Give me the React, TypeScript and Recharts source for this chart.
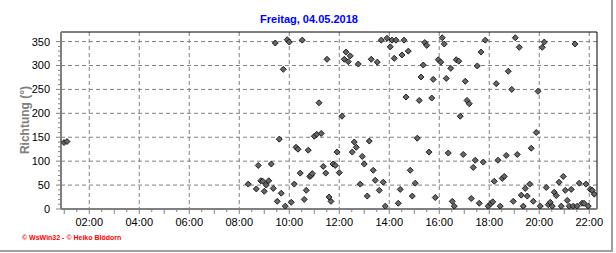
import React from "react";
import {
  CartesianGrid,
  ReferenceLine,
  Scatter,
  ScatterChart,
  XAxis,
  YAxis,
} from "recharts";

// Windrichtung, Freitag 04.05.2018 – [Uhrzeit in Stunden, Richtung in Grad]
const messungen: [number, number][] = [
  [0.99, 139], [1.11, 141],
  [8.36, 52], [8.68, 42], [8.76, 91], [8.86, 59], [8.94, 58], [9.0, 37],
  [9.08, 50], [9.18, 59], [9.28, 94], [9.36, 43], [9.44, 347], [9.52, 16],
  [9.6, 146], [9.68, 33], [9.76, 292], [9.84, 6], [9.92, 354], [10.0, 349],
  [10.08, 14], [10.2, 52], [10.27, 129], [10.35, 125], [10.44, 75], [10.52, 353],
  [10.6, 20], [10.68, 39], [10.76, 123], [10.82, 68], [10.87, 70], [10.92, 74],
  [11.0, 152], [11.1, 156], [11.19, 222], [11.28, 158], [11.36, 89], [11.46, 75],
  [11.51, 313], [11.59, 25], [11.67, 16], [11.75, 94], [11.84, 91], [11.91, 119],
  [12.0, 76], [12.11, 194], [12.2, 313], [12.27, 328], [12.36, 308], [12.44, 320],
  [12.52, 119], [12.6, 140], [12.68, 129], [12.76, 303], [12.84, 52], [12.92, 110],
  [13.0, 94], [13.12, 27], [13.2, 142], [13.28, 313], [13.36, 81], [13.44, 60],
  [13.52, 307], [13.6, 39], [13.68, 353], [13.76, 56], [13.84, 6], [13.91, 357],
  [14.04, 339], [14.11, 353], [14.2, 315], [14.27, 353], [14.36, 12], [14.44, 41],
  [14.51, 322], [14.59, 353], [14.67, 234], [14.76, 330], [14.84, 81], [14.92, 27],
  [15.04, 54], [15.12, 148], [15.2, 227], [15.27, 276], [15.36, 301], [15.42, 348],
  [15.5, 342], [15.59, 119], [15.7, 232], [15.76, 271], [15.84, 24], [15.96, 312],
  [16.06, 307], [16.12, 358], [16.2, 345], [16.28, 273], [16.36, 117], [16.46, 294],
  [16.52, 16], [16.6, 6], [16.68, 312], [16.78, 309], [16.84, 194], [16.96, 114],
  [17.04, 267], [17.11, 227], [17.2, 220], [17.28, 22], [17.36, 87], [17.44, 102],
  [17.52, 299], [17.6, 12], [17.67, 328], [17.76, 98], [17.84, 353], [17.96, 6],
  [18.06, 11], [18.14, 15], [18.2, 58], [18.28, 262], [18.35, 102], [18.44, 6],
  [18.52, 64], [18.6, 68], [18.68, 112], [18.76, 288], [18.9, 250], [18.96, 16],
  [19.04, 358], [19.12, 114], [19.2, 338], [19.28, 29], [19.36, 6], [19.44, 43],
  [19.52, 27], [19.62, 52], [19.68, 127], [19.76, 16], [19.88, 160], [19.95, 246],
  [20.04, 6], [20.12, 338], [20.2, 349], [20.28, 45], [20.36, 9], [20.44, 14],
  [20.52, 6], [20.6, 35], [20.68, 28], [20.79, 56], [20.88, 6], [20.96, 68],
  [21.04, 39], [21.12, 18], [21.2, 6], [21.28, 41], [21.36, 6], [21.43, 345],
  [21.52, 6], [21.6, 54], [21.71, 12], [21.79, 12], [21.87, 52], [21.96, 6],
  [22.04, 41], [22.12, 39], [22.2, 31],
];

const zeitBereich: [number, number] = [0.87, 22.31];
const richtungBereich: [number, number] = [0, 370];
const gitterX = [2, 4, 6, 8, 10, 12, 14, 16, 18, 20, 22];
const gitterY = [50, 100, 150, 200, 250, 300, 350];
const xTicks = Array.from({ length: 43 }, (_, i) => 1 + i * 0.5);
const yTicks = Array.from({ length: 36 }, (_, i) => i * 10);

const data = messungen.map(([h, v]) => ({ h, v }));

const font = "'Liberation Sans', Arial, sans-serif";

const fmtZeit = (h: number) => `${String(h).padStart(2, "0")}:00`;

function XTick(props: any) {
  const { x, y, payload } = props;
  const h = payload.value as number;
  const voll = Number.isInteger(h);
  return (
    <g>
      <line x1={x} x2={x} y1={y} y2={y + (voll ? 5 : 3)} stroke="#808080" />
      {voll && h % 2 === 0 && (
        <text x={x} y={y + 17} textAnchor="middle" fontSize={11} fontFamily={font} fill="#000">
          {fmtZeit(h)}
        </text>
      )}
    </g>
  );
}

function YTick(props: any) {
  const { x, y, payload } = props;
  const v = payload.value as number;
  const gross = v % 50 === 0;
  return (
    <g>
      <line x1={x - (gross ? 5 : 3)} x2={x} y1={y} y2={y} stroke="#808080" />
      {gross && (
        <text x={x - 11} y={y + 4} textAnchor="end" fontSize={11} fontFamily={font} fill="#000">
          {v}
        </text>
      )}
    </g>
  );
}

function Raute(props: any) {
  const { cx, cy } = props;
  const r = 3;
  return (
    <polygon
      points={`${cx},${cy - r} ${cx + r},${cy} ${cx},${cy + r} ${cx - r},${cy}`}
      fill="#666"
      stroke="#111"
      strokeWidth={0.9}
    />
  );
}

export default function App() {
  return (
    <div style={{ position: "absolute", left: 0, top: 0, width: 616, height: 253, background: "#fff" }}>
      <div
        style={{
          position: "absolute",
          left: 0,
          top: 0,
          width: 611,
          height: 250,
          borderRight: "2px solid #a0a0a0",
          borderBottom: "2px solid #a0a0a0",
        }}
      />
      <div
        style={{
          position: "absolute",
          left: 0,
          top: 12,
          width: 618,
          textAlign: "center",
          font: `bold 11px ${font}`,
          lineHeight: "14px",
          color: "#0000ff",
        }}
      >
        Freitag, 04.05.2018
      </div>
      <div
        style={{
          position: "absolute",
          left: 25,
          top: 120,
          transform: "translate(-50%, -50%) rotate(-90deg)",
          whiteSpace: "nowrap",
          font: `bold 12px ${font}`,
          color: "#808080",
        }}
      >
        Richtung (°)
      </div>
      <div
        style={{
          position: "absolute",
          left: 22,
          top: 233,
          font: `bold 7px ${font}`,
          lineHeight: "10px",
          color: "#ff0000",
          whiteSpace: "nowrap",
        }}
      >
        © WsWin32 - © Heiko Blödorn
      </div>
      <div style={{ position: "absolute", left: 0, top: 0 }}>
        <ScatterChart width={616} height={253} margin={{ top: 32, right: 19, bottom: 14, left: 0 }}>
          <CartesianGrid
            stroke="#808080"
            strokeDasharray="4 3"
            horizontalValues={gitterY}
            verticalValues={gitterX}
          />
          <XAxis
            type="number"
            dataKey="h"
            domain={zeitBereich}
            allowDataOverflow
            ticks={xTicks}
            interval={0}
            tick={<XTick />}
            tickLine={false}
            tickSize={0}
            tickMargin={0}
            axisLine={{ stroke: "#808080", strokeWidth: 2 }}
            height={30}
          />
          <YAxis
            type="number"
            dataKey="v"
            domain={richtungBereich}
            allowDataOverflow
            ticks={yTicks}
            interval={0}
            tick={<YTick />}
            tickLine={false}
            tickSize={0}
            tickMargin={0}
            axisLine={{ stroke: "#808080", strokeWidth: 2 }}
            width={61}
          />
          <ReferenceLine y={richtungBereich[1]} stroke="#000" />
          <ReferenceLine x={zeitBereich[1]} stroke="#000" />
          <Scatter data={data} shape={<Raute />} isAnimationActive={false} />
        </ScatterChart>
      </div>
    </div>
  );
}
